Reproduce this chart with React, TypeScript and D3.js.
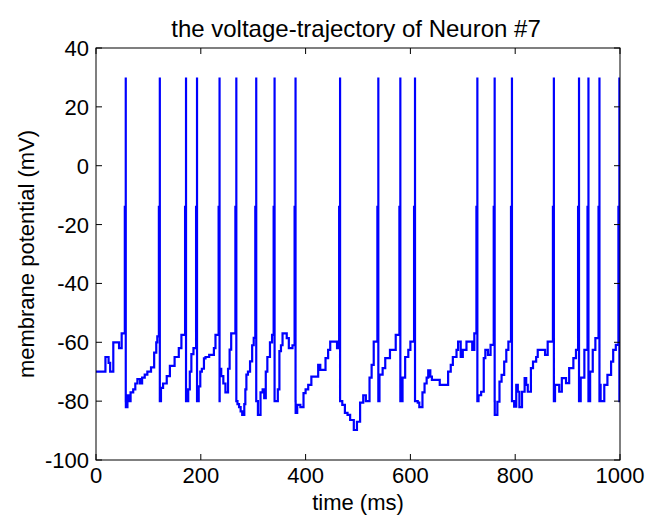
import React from "react";
import * as d3 from "d3";

const xTicks = [0, 200, 400, 600, 800, 1000];
const yTicks = [-100, -80, -60, -40, -20, 0, 20, 40];

const spikeTimes = [55, 120, 170, 191, 234, 266, 304, 339, 379, 464, 537, 579, 607, 726, 759, 792, 872, 920, 938, 959, 997];
const spikePeak = 30;
const spikeMid = -14;
const resetV = -80;

// subthreshold membrane potential: [time ms, mV] (step starts)
const subthreshold: [number, number][] = [
  [0, -70], [18, -65], [24, -67], [27, -70], [33, -60], [44, -62], [49, -57],
  [57, -82], [60, -78], [63, -80], [66, -77], [71, -76], [75, -74], [79, -72.5], [84, -74], [88, -72], [93, -71], [98, -70], [105, -68.5], [111, -63.5], [115, -60], [117, -58],
  [122, -80], [124, -75.5], [128, -74], [135, -71.5], [141, -68], [150, -65], [158, -62], [163, -57.5],
  [172, -80], [176, -76], [179, -70], [182, -64], [186, -62],
  [193, -80], [196, -75], [199, -70], [202, -69], [206, -65.5], [209, -65], [216, -64.3], [225, -62], [228, -57.5],
  [236, -69], [239, -71.5], [243, -74], [247, -77], [252, -69], [255, -62.5], [258, -57],
  [268, -80], [270, -81], [273, -82], [276, -83.5], [279, -84.7], [283, -81], [285, -76], [287, -71], [290, -70], [294, -66.5], [298, -61], [301, -58.5],
  [306, -80], [309, -84.7], [314, -77], [318, -76], [321, -79], [324, -70], [327, -65], [332, -60], [336, -57.5],
  [341, -80], [347, -76], [350, -63], [353, -61], [356, -57], [364, -58.6], [368, -62], [375, -61],
  [381, -84], [384, -81.3], [390, -82], [396, -77.3], [400, -76], [405, -74.5], [411, -71.7], [424, -67.7], [428, -69.4], [438, -65.4], [443, -62.6], [447, -59.8], [460, -62],
  [466, -80], [470, -81.3], [475, -84], [480, -84.7], [485, -86.4], [492, -89.8], [498, -87], [504, -80.5], [510, -78], [515, -80], [522, -72], [526, -67.7], [530, -59.8],
  [539, -80], [541, -71], [547, -68.8], [552, -65.4], [561, -62.6], [572, -57.5],
  [581, -80], [585, -72], [590, -65], [596, -62.6], [600, -59.8],
  [609, -80], [614, -80.5], [617, -82], [623, -77], [627, -74], [631, -72], [634, -69.5], [638, -71.7], [641, -72.8], [656, -74.5], [672, -70], [677, -67.7], [681, -65], [688, -62.6], [691, -59.8], [696, -65], [700, -62.6], [707, -59.8], [718, -62.6], [722, -57],
  [728, -80], [730, -78], [735, -76.8], [740, -65.4], [743, -62.6], [748, -64.3], [753, -60.9],
  [761, -84.7], [766, -80.2], [770, -73.4], [774, -71.1], [779, -66.6], [783, -62.6], [787, -59.8],
  [794, -80], [798, -81.9], [802, -74.5], [805, -76.8], [808, -82], [813, -76.8], [818, -72.2], [821, -74.5], [824, -76.8], [830, -68.8], [834, -66.6], [840, -65], [843, -62.6], [857, -64.3], [862, -59.8],
  [874, -80], [876, -74.5], [884, -76.8], [889, -72.2], [897, -73.9], [903, -68.8], [911, -65.4], [916, -62.6],
  [922, -80], [925, -72], [932, -62.6],
  [940, -80], [943, -70], [948, -62.6], [953, -58.6],
  [961, -74.5], [963, -80], [970, -74.5], [976, -71.1], [983, -66.6], [987, -62.6], [992, -60.9],
  [1000, -80],
];

const W = 662, H = 515;
const left = 96, right = 620, top = 48, bottom = 460;
const FONT = "'Liberation Sans', Arial, sans-serif";

export default function App() {
  const x = d3.scaleLinear().domain([0, 1000]).range([left, right]);
  const y = d3.scaleLinear().domain([-100, 40]).range([bottom, top]);

  const pts: [number, number][] = [];
  let si = 0;
  for (const p of subthreshold) {
    while (si < spikeTimes.length && spikeTimes[si] < p[0]) {
      const ts = spikeTimes[si];
      pts.push([ts, spikeMid], [ts + 1.8, spikePeak], [ts + 1.8, resetV]);
      si++;
    }
    pts.push(p);
  }
  const line = d3
    .line<[number, number]>()
    .x((d) => x(d[0]))
    .y((d) => y(d[1]))
    .curve(d3.curveStepAfter);

  const tl = 6;
  return (
    <svg width={W} height={H} style={{ position: "absolute", left: 0, top: 0, background: "#fff" }} fontFamily={FONT}>
      <rect x={0} y={0} width={W} height={H} fill="#fff" />
      <defs>
        <clipPath id="plotclip">
          <rect x={left} y={top} width={right - left} height={bottom - top} />
        </clipPath>
      </defs>
      <path d={line(pts) || ""} fill="none" stroke="#0000ff" strokeWidth={2.2} clipPath="url(#plotclip)" />
      <rect x={left} y={top} width={right - left} height={bottom - top} fill="none" stroke="#000" strokeWidth={1} />
      {xTicks.map((t) => (
        <g key={"x" + t}>
          <line x1={x(t)} x2={x(t)} y1={bottom} y2={bottom - tl} stroke="#000" />
          <line x1={x(t)} x2={x(t)} y1={top} y2={top + tl} stroke="#000" />
          <text x={x(t)} y={483} textAnchor="middle" fontSize={22} fill="#000">{t}</text>
        </g>
      ))}
      {yTicks.map((t) => (
        <g key={"y" + t}>
          <line x1={left} x2={left + tl} y1={y(t)} y2={y(t)} stroke="#000" />
          <line x1={right} x2={right - tl} y1={y(t)} y2={y(t)} stroke="#000" />
          <text x={89} y={y(t) + 8} textAnchor="end" fontSize={22} fill="#000">{t}</text>
        </g>
      ))}
      <text x={356} y={37} textAnchor="middle" fontSize={24} fill="#000">the voltage-trajectory of Neuron #7</text>
      <text x={358} y={510} textAnchor="middle" fontSize={22} fill="#000">time (ms)</text>
      <text transform={`translate(34,254) rotate(-90)`} textAnchor="middle" fontSize={22} fill="#000">membrane potential (mV)</text>
    </svg>
  );
}
